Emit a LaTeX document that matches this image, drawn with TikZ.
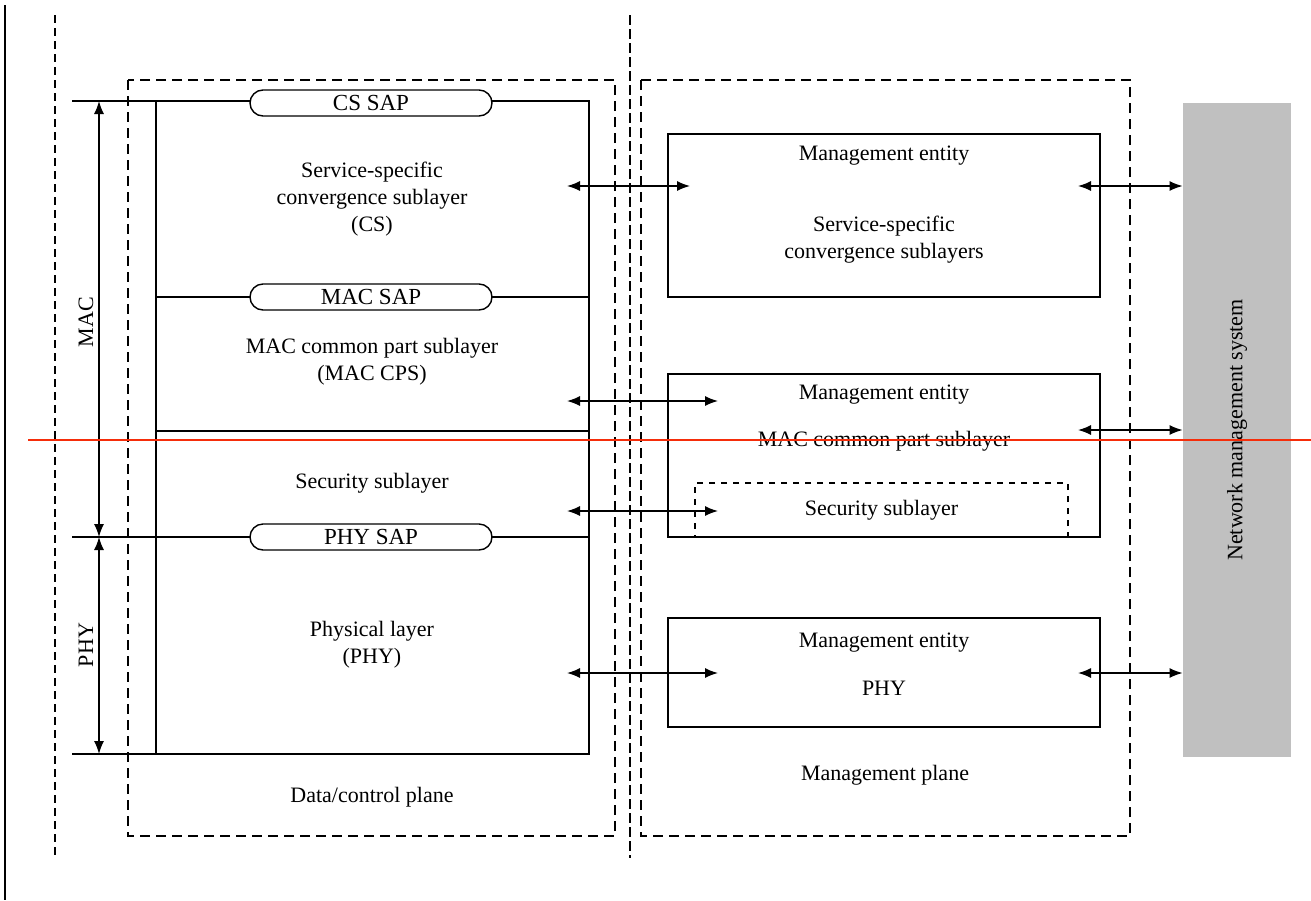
\documentclass[tikz,border=0pt]{standalone}
\usepackage{fontspec}
\setmainfont{Liberation Serif}
\usetikzlibrary{arrows.meta}
\definecolor{redline}{RGB}{245,45,10}
\definecolor{nmsgray}{RGB}{192,192,192}

\begin{document}
\begin{tikzpicture}[x=0.5pt,y=-0.5pt,font=\fontsize{11}{13.5}\selectfont]
	\tikzstyle{plane}=[line width=1pt,dash pattern=on 5pt off 3pt]
	\tikzstyle{sap}=[draw,line width=0.7pt,fill=white,rounded corners=6.5pt,minimum width=121pt,minimum height=13pt,inner sep=0pt,font=\fontsize{11.5}{13}\selectfont]
	\tikzstyle{entity}=[draw,line width=0.7pt,minimum width=216pt,inner sep=0pt]
	\tikzstyle{link}=[{Latex[length=6.5pt,width=5pt]}-{Latex[length=6.5pt,width=5pt]},line width=0.7pt]
	\tikzstyle{txt}=[align=center,inner sep=0pt]
	\useasboundingbox (0,0) rectangle (1311,900);

	% frame lines
	\draw[line width=1pt] (5,5) -- (5,900);
	\draw[line width=0.7pt,dash pattern=on 4pt off 2.5pt] (55,15) -- (55,858);
	\draw[line width=0.8pt,dash pattern=on 5pt off 2pt] (630,15) -- (630,858);

	% planes
	\draw[plane] (128,80) rectangle (615,836);
	\draw[plane] (641,80) rectangle (1130,836);

	% data/control plane layers
	\draw[line width=0.7pt] (72,101) -- (589,101) -- (589,754) -- (72,754);
	\draw[line width=0.7pt] (156,101) -- (156,754);
	\draw[line width=0.7pt] (156,297) -- (589,297);
	\draw[line width=0.7pt] (156,431) -- (589,431);
	\draw[line width=0.7pt] (72,537) -- (589,537);

	\node[sap](cssap) at (371,103) {CS SAP};
	\node[sap](macsap) at (371,297) {MAC SAP};
	\node[sap](physap) at (371,537) {PHY SAP};

	\node[txt](cs) at (372,199) {Service-specific\\convergence sublayer\\(CS)};
	\node[txt](cps) at (372,362) {MAC common part sublayer\\(MAC CPS)};
	\node[txt](sec) at (372,483) {Security sublayer};
	\node[txt](phy) at (372,645) {Physical layer\\(PHY)};
	\node[txt](dcp) at (372,797) {Data/control plane};

	% MAC / PHY extent
	\coordinate (mactop) at (99,101);
	\coordinate (macbot) at (99,537);
	\coordinate (phybot) at (99,754);
	\draw[link] (mactop) -- (macbot);
	\draw[link] (macbot) -- (phybot);
	\node[txt,rotate=90](maclbl) at (86,322) {MAC};
	\node[txt,rotate=90](phylbl) at (86,645) {PHY};

	% management plane
	\node[entity,minimum height=81.5pt](me1) at (884,215.5) {};
	\node[entity,minimum height=81.5pt](me2) at (884,455.5) {};
	\node[entity,minimum height=54.5pt](me3) at (884,672.5) {};
	\node[draw,dashed,line width=0.7pt,minimum width=186.5pt,minimum height=27pt,inner sep=0pt](mesec) at (881.5,510) {};

	\node[txt] at (884,156) {Management entity};
	\node[txt] at (884,240) {Service-specific\\convergence sublayers};
	\node[txt] at (884,395) {Management entity};
	\node[txt] at (884,441) {MAC common part sublayer};
	\node[txt] at (mesec) {Security sublayer};
	\node[txt] at (884,643) {Management entity};
	\node[txt] at (884,688) {PHY};
	\node[txt](mgp) at (885,775) {Management plane};

	% network management system
	\node[fill=nmsgray,minimum width=54pt,minimum height=327pt,inner sep=0pt](nms) at (1237,430) {};
	\node[txt,rotate=90] at (nms) {Network management system};

	% links
	\coordinate (d1) at (567,186);
	\coordinate (d2) at (567,401);
	\coordinate (d3) at (567,511);
	\coordinate (d4) at (567,673);
	\coordinate (m1) at (690,186);
	\coordinate (m2) at (718,401);
	\coordinate (m3) at (718,511);
	\coordinate (m4) at (718,673);
	\draw[link] (d1) -- (m1);
	\draw[link] (d2) -- (m2);
	\draw[link] (d3) -- (m3);
	\draw[link] (d4) -- (m4);
	\coordinate (r1) at (1078,186);
	\coordinate (r2) at (1078,430);
	\coordinate (r3) at (1078,673);
	\draw[link] (r1) -- (nms.west |- r1);
	\draw[link] (r2) -- (nms.west |- r2);
	\draw[link] (r3) -- (nms.west |- r3);

	\draw[redline,line width=0.8pt] (28,440) -- (1311,440);
\end{tikzpicture}
\end{document}
